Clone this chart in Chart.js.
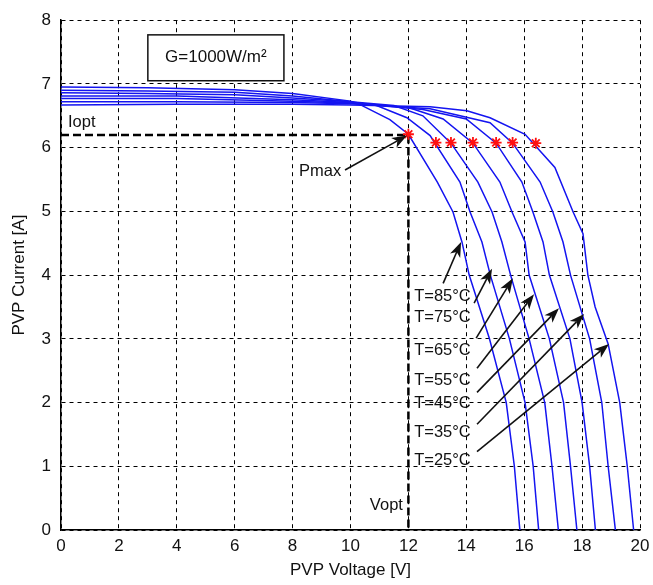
<!DOCTYPE html>
<html>
<head>
<meta charset="utf-8">
<script src="https://cdn.jsdelivr.net/npm/chart.js@4.4.0/dist/chart.umd.min.js"></script>
<style>
  html, body { margin: 0; padding: 0; background: #fff; }
</style>
</head>
<body>
<canvas id="pvChart" width="653" height="585"></canvas>
<script>
// curve temperatures, hottest first
const temps = [85, 75, 65, 55, 45, 35, 25];

// I-V curves (voltage V, current A)
const volt85 = [0, 3, 6, 8, 10, 10.35, 11.36, 12.0, 13.0, 13.54, 13.85, 14.1, 14.8, 15.38, 15.66, 15.85];
const amp85  = [6.95, 6.94, 6.91, 6.85, 6.73, 6.67, 6.44, 6.21, 5.46, 4.99, 4.52, 4.0, 3.0, 2.0, 1.0, 0];
const volt75 = [0, 3, 6, 8, 10, 10.9, 11.95, 12.75, 13.78, 14.13, 14.54, 14.83, 15.49, 16.03, 16.31, 16.5];
const amp75  = [6.9, 6.89, 6.87, 6.81, 6.72, 6.66, 6.47, 6.19, 5.46, 4.99, 4.52, 4.0, 3.0, 2.0, 1.0, 0];
const volt65 = [0, 3, 6, 8, 10, 11.5, 12.5, 13.47, 14.4, 14.89, 15.23, 15.53, 16.17, 16.71, 16.96, 17.18];
const amp65  = [6.86, 6.85, 6.83, 6.78, 6.72, 6.66, 6.5, 6.07, 5.46, 4.99, 4.52, 4.0, 3.0, 2.0, 1.0, 0];
const volt55 = [0, 4, 8, 10, 12, 13.2, 14.23, 15.16, 15.58, 16.03, 16.17, 16.87, 17.36, 17.6, 17.82];
const amp55  = [6.81, 6.81, 6.75, 6.71, 6.63, 6.45, 6.07, 5.46, 4.99, 4.52, 4.0, 3.0, 2.0, 1.0, 0];
const volt45 = [0, 4, 8, 10, 12.5, 14, 15.03, 15.92, 16.3, 16.65, 16.87, 17.58, 18.0, 18.26, 18.46];
const amp45  = [6.77, 6.77, 6.73, 6.7, 6.6, 6.45, 6.07, 5.46, 4.99, 4.52, 4.0, 3.0, 2.0, 1.0, 0];
const volt35 = [0, 4, 8, 10, 12.75, 14.82, 15.6, 16.55, 16.99, 17.34, 17.6, 18.26, 18.68, 18.9, 19.15];
const amp35  = [6.72, 6.72, 6.71, 6.69, 6.61, 6.39, 6.07, 5.46, 4.99, 4.52, 4.0, 3.0, 2.0, 1.0, 0];
const volt25 = [0, 4, 8, 10, 12.75, 14.02, 14.82, 16.03, 17.06, 17.69, 18.03, 18.2, 18.45, 18.9, 19.3, 19.56, 19.78];
const amp25  = [6.67, 6.68, 6.68, 6.67, 6.64, 6.58, 6.47, 6.21, 5.69, 4.99, 4.65, 4.0, 3.5, 2.92, 2.0, 1.0, 0];

// maximum power points (red stars)
const starVolt = [12.0, 12.95, 13.47, 14.23, 15.03, 15.6, 16.4];
const starAmp  = [6.21, 6.08, 6.08, 6.08, 6.08, 6.08, 6.07];

// Iopt / Vopt guide line
const optVolt = [0, 12, 12];
const optAmp  = [6.2, 6.2, 0];

// axis ticks
const xTicks = [0, 2, 4, 6, 8, 10, 12, 14, 16, 18, 20];
const yTicks = [0, 1, 2, 3, 4, 5, 6, 7, 8];

// temperature labels and their arrows (data units)
const labelV = [12.2, 12.2, 12.2, 12.2, 12.2, 12.2, 12.2];
const labelI = [3.67, 3.34, 2.81, 2.34, 1.98, 1.53, 1.09];
const tailV = [13.2, 14.27, 14.34, 14.37, 14.37, 14.37, 14.37];
const tailI = [3.87, 3.56, 3.01, 2.54, 2.16, 1.66, 1.23];
const tipV  = [13.82, 14.89, 15.61, 16.34, 17.2, 18.07, 18.93];
const tipI  = [4.52, 4.10, 3.95, 3.70, 3.48, 3.39, 2.92];

const curveVolts = [volt85, volt75, volt65, volt55, volt45, volt35, volt25];
const curveAmps = [amp85, amp75, amp65, amp55, amp45, amp35, amp25];

const FONT = "'Liberation Sans', Arial, Helvetica, sans-serif";
const pts = (xs, ys) => xs.map((v, i) => ({ x: v, y: ys[i] }));

// arrow with a filled, notched head
function arrow(ctx, x1, y1, x2, y2) {
  const a = Math.atan2(y2 - y1, x2 - x1);
  const len = 15, half = 5.5, back = 11;
  ctx.beginPath();
  ctx.moveTo(x1, y1);
  ctx.lineTo(x2 - back * Math.cos(a), y2 - back * Math.sin(a));
  ctx.lineWidth = 1.6;
  ctx.stroke();
  ctx.beginPath();
  ctx.moveTo(x2, y2);
  ctx.lineTo(x2 - len * Math.cos(a) + half * Math.sin(a), y2 - len * Math.sin(a) - half * Math.cos(a));
  ctx.lineTo(x2 - back * Math.cos(a), y2 - back * Math.sin(a));
  ctx.lineTo(x2 - len * Math.cos(a) - half * Math.sin(a), y2 - len * Math.sin(a) + half * Math.cos(a));
  ctx.closePath();
  ctx.fill();
}

const notes = {
  id: "notes",
  afterDatasetsDraw(chart) {
    const { ctx, scales: { x, y } } = chart;
    const px = (v) => x.getPixelForValue(v);
    const py = (v) => y.getPixelForValue(v);
    ctx.save();
    ctx.fillStyle = "#111";
    ctx.strokeStyle = "#111";
    ctx.font = "16.5px " + FONT;
    ctx.textBaseline = "middle";

    // temperature labels
    temps.forEach((t, i) => {
      ctx.textAlign = "left";
      ctx.fillText("T=" + t + "°C", px(labelV[i]), py(labelI[i]));
      arrow(ctx, px(tailV[i]), py(tailI[i]), px(tipV[i]), py(tipI[i]));
    });

    // Pmax, Iopt, Vopt
    ctx.fillText("Pmax", px(8.22), py(5.62));
    arrow(ctx, px(9.81), py(5.65), px(11.95), py(6.19));
    ctx.fillText("Iopt", px(0.24), py(6.4));
    ctx.textAlign = "right";
    ctx.fillText("Vopt", px(11.81), py(0.39));

    // irradiance box
    const bx = px(3.0), by = py(7.77);
    ctx.fillStyle = "#fff";
    ctx.fillRect(bx, by, px(7.7) - bx, py(7.05) - by);
    ctx.lineWidth = 1.5;
    ctx.strokeRect(bx, by, px(7.7) - bx, py(7.05) - by);
    ctx.fillStyle = "#111";
    ctx.textAlign = "center";
    ctx.font = "17px " + FONT;
    ctx.fillText("G=1000W/m²", px(5.35), py(7.41));
    ctx.restore();
  }
};

const datasets = curveVolts.map((v, i) => ({
  label: "T=" + temps[i] + "°C",
  data: pts(v, curveAmps[i]),
  showLine: true,
  borderColor: "#1414f0",
  borderWidth: 1.5,
  pointRadius: 0,
  tension: 0,
  order: 3
}));

datasets.push({
  label: "opt",
  data: pts(optVolt, optAmp),
  showLine: true,
  borderColor: "#000",
  borderWidth: 2.5,
  borderDash: [8, 4],
  pointRadius: 0,
  order: 2
});

datasets.push({
  label: "Pmax",
  data: pts(starVolt, starAmp),
  showLine: false,
  pointStyle: "star",
  pointRadius: 5.5,
  borderColor: "#ff1010",
  backgroundColor: "#ff1010",
  pointBorderWidth: 1.8,
  order: 0
});

new Chart(document.getElementById("pvChart"), {
  type: "scatter",
  data: { datasets },
  options: {
    responsive: false,
    animation: false,
    devicePixelRatio: 1,
    layout: { padding: { top: 17, right: 0, left: 0, bottom: 0 } },
    plugins: { legend: { display: false }, tooltip: { enabled: false } },
    scales: {
      x: {
        type: "linear",
        min: 0,
        max: 20,
        afterBuildTicks: (s) => { s.ticks = xTicks.map((v) => ({ value: v })); },
        afterFit: (s) => { s.height = 55; s.paddingRight = 13; s.paddingLeft = 0; },
        ticks: { color: "#111", font: { family: FONT, size: 17 }, padding: 6 },
        grid: { color: "#000", lineWidth: 1, drawTicks: false },
        border: { display: true, color: "#000", width: 1.5, dash: [4, 4] },
        title: { display: true, text: "PVP Voltage [V]", color: "#111", font: { family: FONT, size: 17 }, padding: { top: 0, bottom: 4 } }
      },
      y: {
        type: "linear",
        min: 0,
        max: 8,
        afterBuildTicks: (s) => { s.ticks = yTicks.map((v) => ({ value: v })); },
        afterFit: (s) => { s.width = 61; },
        ticks: { color: "#111", font: { family: FONT, size: 17 }, padding: 10 },
        grid: { color: "#000", lineWidth: 1, drawTicks: false },
        border: { display: true, color: "#000", width: 1.5, dash: [4, 4] },
        title: { display: true, text: "PVP Current [A]", color: "#111", font: { family: FONT, size: 17 }, padding: { top: 9, bottom: 0 } }
      }
    }
  },
  plugins: [notes]
});
</script>
</body>
</html>
